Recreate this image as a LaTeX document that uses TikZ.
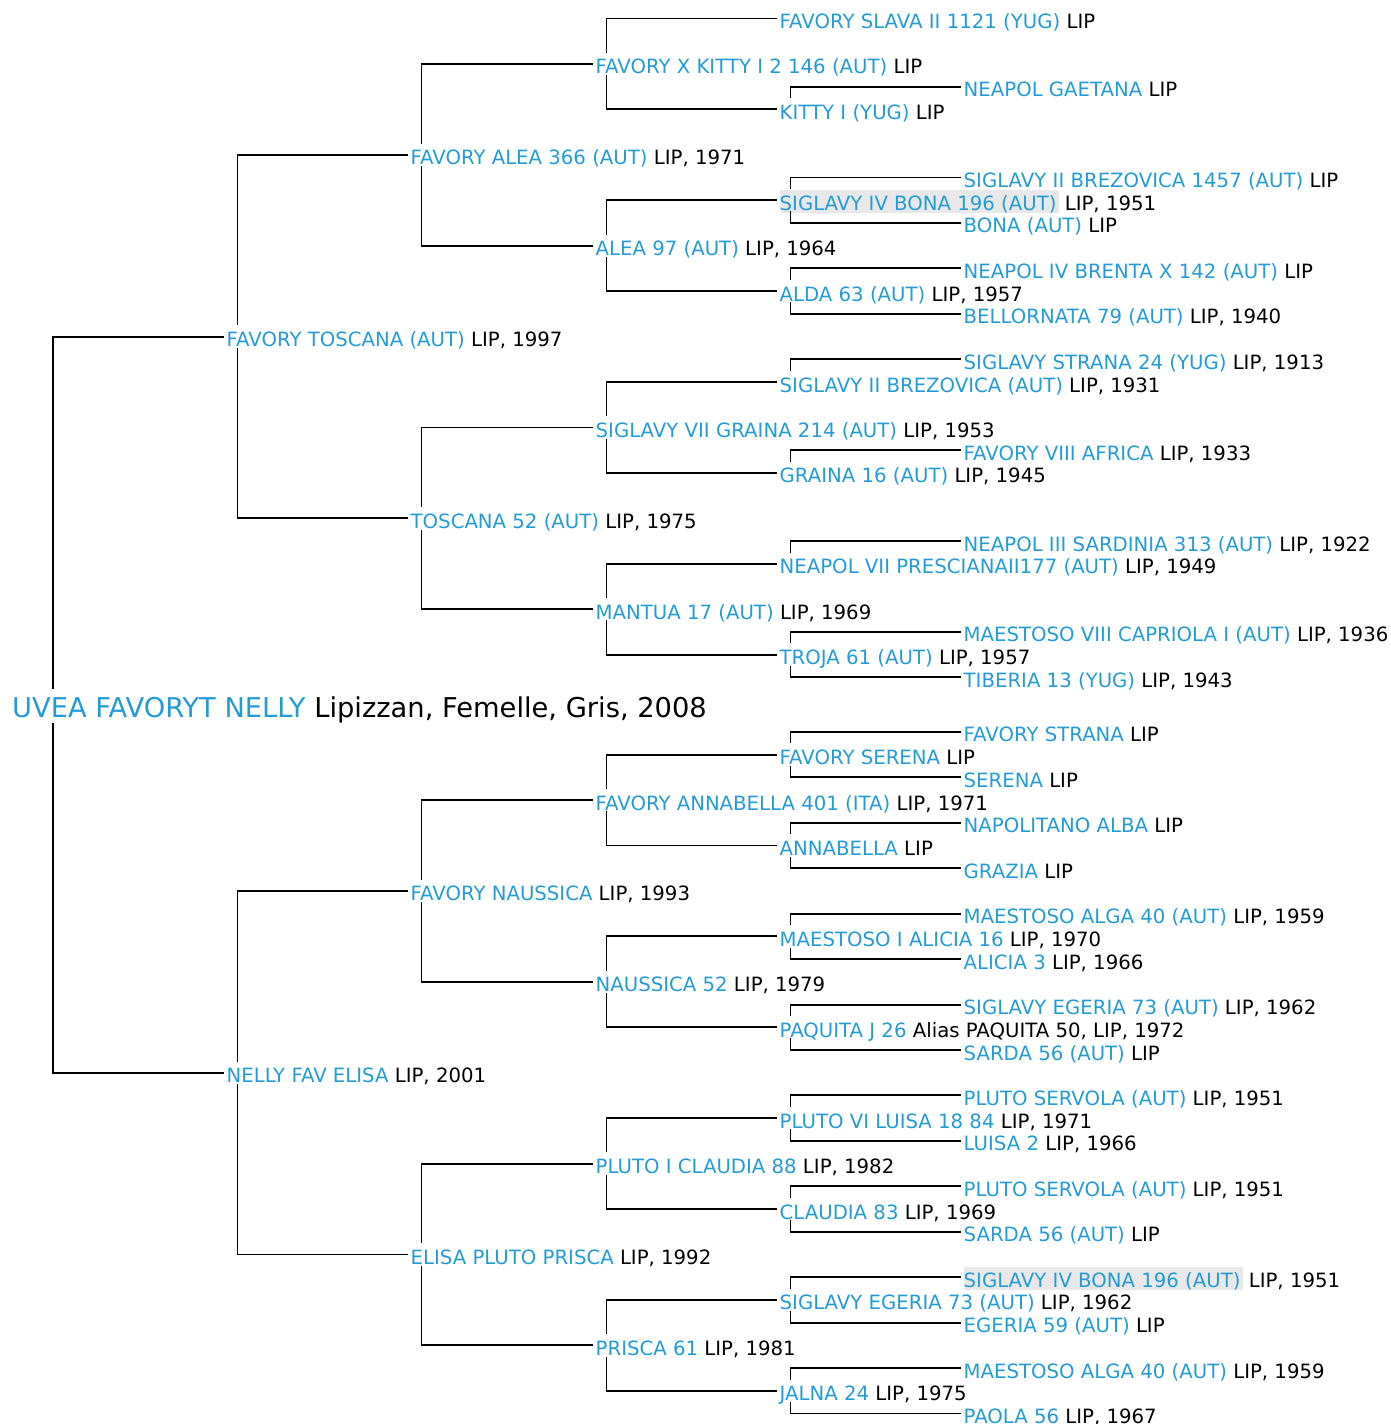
\documentclass[tikz,border=0pt]{standalone}
\usepackage{fontspec}
\setmainfont{DejaVu Sans}
\definecolor{horseblue}{RGB}{35,155,215}
\definecolor{markgray}{RGB}{232,232,232}
\newcommand{\hname}[1]{\textcolor{horseblue}{#1}}
\newcommand{\hlname}[1]{{\setlength{\fboxsep}{0pt}\colorbox{markgray}{\rule[-2.7pt]{0pt}{22.7pt}\textcolor{horseblue}{#1}\kern2pt}}}

\begin{document}
\begin{tikzpicture}[x=1pt, y=-22.72pt]
    \tikzstyle{every node}=[anchor=base west, inner xsep=3pt, inner ysep=0pt, text height=21pt, text depth=1pt, font=\fontsize{19.7pt}{22pt}\selectfont]
    \tikzstyle{edge}=[black, line width=1.9pt]
    \useasboundingbox (0pt,28.5pt) rectangle (1390pt,-1395.5pt);

    \node[font=\fontsize{27.3pt}{32pt}\selectfont, text height=28pt, text depth=5.5pt] (h) at (9,30.32) {\hname{UVEA FAVORYT NELLY} Lipizzan, Femelle, Gris, 2008};

    % sire side
    \node (s) at (223.5,14) {\hname{FAVORY TOSCANA (AUT)} LIP, 1997};
    \node (ss) at (407.5,6) {\hname{FAVORY ALEA 366 (AUT)} LIP, 1971};
    \node (sd) at (407.5,22) {\hname{TOSCANA 52 (AUT)} LIP, 1975};
    \node (sss) at (592.5,2) {\hname{FAVORY X KITTY I 2 146 (AUT)} LIP};
    \node (ssd) at (592.5,10) {\hname{ALEA 97 (AUT)} LIP, 1964};
    \node (sds) at (592.5,18) {\hname{SIGLAVY VII GRAINA 214 (AUT)} LIP, 1953};
    \node (sdd) at (592.5,26) {\hname{MANTUA 17 (AUT)} LIP, 1969};
    \node (ssss) at (776.5,0) {\hname{FAVORY SLAVA II 1121 (YUG)} LIP};
    \node (sssd) at (776.5,4) {\hname{KITTY I (YUG)} LIP};
    \node (ssds) at (776.5,8) {\hlname{SIGLAVY IV BONA 196 (AUT)} LIP, 1951};
    \node (ssdd) at (776.5,12) {\hname{ALDA 63 (AUT)} LIP, 1957};
    \node (sdss) at (776.5,16) {\hname{SIGLAVY II BREZOVICA (AUT)} LIP, 1931};
    \node (sdsd) at (776.5,20) {\hname{GRAINA 16 (AUT)} LIP, 1945};
    \node (sdds) at (776.5,24) {\hname{NEAPOL VII PRESCIANAII177 (AUT)} LIP, 1949};
    \node (sddd) at (776.5,28) {\hname{TROJA 61 (AUT)} LIP, 1957};
    \node (sssds) at (960.5,3) {\hname{NEAPOL GAETANA} LIP};
    \node (ssdss) at (960.5,7) {\hname{SIGLAVY II BREZOVICA 1457 (AUT)} LIP};
    \node (ssdsd) at (960.5,9) {\hname{BONA (AUT)} LIP};
    \node (ssdds) at (960.5,11) {\hname{NEAPOL IV BRENTA X 142 (AUT)} LIP};
    \node (ssddd) at (960.5,13) {\hname{BELLORNATA 79 (AUT)} LIP, 1940};
    \node (sdsss) at (960.5,15) {\hname{SIGLAVY STRANA 24 (YUG)} LIP, 1913};
    \node (sdsds) at (960.5,19) {\hname{FAVORY VIII AFRICA} LIP, 1933};
    \node (sddss) at (960.5,23) {\hname{NEAPOL III SARDINIA 313 (AUT)} LIP, 1922};
    \node (sddds) at (960.5,27) {\hname{MAESTOSO VIII CAPRIOLA I (AUT)} LIP, 1936};
    \node (sdddd) at (960.5,29) {\hname{TIBERIA 13 (YUG)} LIP, 1943};

    % dam side
    \node (d) at (223.5,46.4) {\hname{NELLY FAV ELISA} LIP, 2001};
    \node (ds) at (407.5,38.4) {\hname{FAVORY NAUSSICA} LIP, 1993};
    \node (dd) at (407.5,54.4) {\hname{ELISA PLUTO PRISCA} LIP, 1992};
    \node (dss) at (592.5,34.4) {\hname{FAVORY ANNABELLA 401 (ITA)} LIP, 1971};
    \node (dsd) at (592.5,42.4) {\hname{NAUSSICA 52} LIP, 1979};
    \node (dds) at (592.5,50.4) {\hname{PLUTO I CLAUDIA 88} LIP, 1982};
    \node (ddd) at (592.5,58.4) {\hname{PRISCA 61} LIP, 1981};
    \node (dsss) at (776.5,32.4) {\hname{FAVORY SERENA} LIP};
    \node (dssd) at (776.5,36.4) {\hname{ANNABELLA} LIP};
    \node (dsds) at (776.5,40.4) {\hname{MAESTOSO I ALICIA 16} LIP, 1970};
    \node (dsdd) at (776.5,44.4) {\hname{PAQUITA J 26} Alias PAQUITA 50, LIP, 1972};
    \node (ddss) at (776.5,48.4) {\hname{PLUTO VI LUISA 18 84} LIP, 1971};
    \node (ddsd) at (776.5,52.4) {\hname{CLAUDIA 83} LIP, 1969};
    \node (ddds) at (776.5,56.4) {\hname{SIGLAVY EGERIA 73 (AUT)} LIP, 1962};
    \node (dddd) at (776.5,60.4) {\hname{JALNA 24} LIP, 1975};
    \node (dssss) at (960.5,31.4) {\hname{FAVORY STRANA} LIP};
    \node (dsssd) at (960.5,33.4) {\hname{SERENA} LIP};
    \node (dssds) at (960.5,35.4) {\hname{NAPOLITANO ALBA} LIP};
    \node (dssdd) at (960.5,37.4) {\hname{GRAZIA} LIP};
    \node (dsdss) at (960.5,39.4) {\hname{MAESTOSO ALGA 40 (AUT)} LIP, 1959};
    \node (dsdsd) at (960.5,41.4) {\hname{ALICIA 3} LIP, 1966};
    \node (dsdds) at (960.5,43.4) {\hname{SIGLAVY EGERIA 73 (AUT)} LIP, 1962};
    \node (dsddd) at (960.5,45.4) {\hname{SARDA 56 (AUT)} LIP};
    \node (ddsss) at (960.5,47.4) {\hname{PLUTO SERVOLA (AUT)} LIP, 1951};
    \node (ddssd) at (960.5,49.4) {\hname{LUISA 2} LIP, 1966};
    \node (ddsds) at (960.5,51.4) {\hname{PLUTO SERVOLA (AUT)} LIP, 1951};
    \node (ddsdd) at (960.5,53.4) {\hname{SARDA 56 (AUT)} LIP};
    \node (dddss) at (960.5,55.4) {\hlname{SIGLAVY IV BONA 196 (AUT)} LIP, 1951};
    \node (dddsd) at (960.5,57.4) {\hname{EGERIA 59 (AUT)} LIP};
    \node (dddds) at (960.5,59.4) {\hname{MAESTOSO ALGA 40 (AUT)} LIP, 1959};
    \node (ddddd) at (960.5,61.4) {\hname{PAOLA 56} LIP, 1967};

    % parent links
    \draw[edge] (s.west) -| ([xshift=44pt]h.north west) ([xshift=44pt]h.south west) |- (d.west);
    \draw[edge] (ss.west) -| ([xshift=14pt]s.north west) ([xshift=14pt]s.south west) |- (sd.west);
    \draw[edge] (ds.west) -| ([xshift=14pt]d.north west) ([xshift=14pt]d.south west) |- (dd.west);
    \draw[edge] (sss.west) -| ([xshift=14pt]ss.north west) ([xshift=14pt]ss.south west) |- (ssd.west);
    \draw[edge] (sds.west) -| ([xshift=14pt]sd.north west) ([xshift=14pt]sd.south west) |- (sdd.west);
    \draw[edge] (dss.west) -| ([xshift=14pt]ds.north west) ([xshift=14pt]ds.south west) |- (dsd.west);
    \draw[edge] (dds.west) -| ([xshift=14pt]dd.north west) ([xshift=14pt]dd.south west) |- (ddd.west);
    \draw[edge] (ssss.west) -| ([xshift=14pt]sss.north west) ([xshift=14pt]sss.south west) |- (sssd.west);
    \draw[edge] (ssds.west) -| ([xshift=14pt]ssd.north west) ([xshift=14pt]ssd.south west) |- (ssdd.west);
    \draw[edge] (sdss.west) -| ([xshift=14pt]sds.north west) ([xshift=14pt]sds.south west) |- (sdsd.west);
    \draw[edge] (sdds.west) -| ([xshift=14pt]sdd.north west) ([xshift=14pt]sdd.south west) |- (sddd.west);
    \draw[edge] (dsss.west) -| ([xshift=14pt]dss.north west) ([xshift=14pt]dss.south west) |- (dssd.west);
    \draw[edge] (dsds.west) -| ([xshift=14pt]dsd.north west) ([xshift=14pt]dsd.south west) |- (dsdd.west);
    \draw[edge] (ddss.west) -| ([xshift=14pt]dds.north west) ([xshift=14pt]dds.south west) |- (ddsd.west);
    \draw[edge] (ddds.west) -| ([xshift=14pt]ddd.north west) ([xshift=14pt]ddd.south west) |- (dddd.west);

    \draw[edge] (sssds.west) -| ([xshift=14pt]sssd.north west);
    \draw[edge] (ssdss.west) -| ([xshift=14pt]ssds.north west) ([xshift=14pt]ssds.south west) |- (ssdsd.west);
    \draw[edge] (ssdds.west) -| ([xshift=14pt]ssdd.north west) ([xshift=14pt]ssdd.south west) |- (ssddd.west);
    \draw[edge] (sdsss.west) -| ([xshift=14pt]sdss.north west);
    \draw[edge] (sdsds.west) -| ([xshift=14pt]sdsd.north west);
    \draw[edge] (sddss.west) -| ([xshift=14pt]sdds.north west);
    \draw[edge] (sddds.west) -| ([xshift=14pt]sddd.north west) ([xshift=14pt]sddd.south west) |- (sdddd.west);
    \draw[edge] (dssss.west) -| ([xshift=14pt]dsss.north west) ([xshift=14pt]dsss.south west) |- (dsssd.west);
    \draw[edge] (dssds.west) -| ([xshift=14pt]dssd.north west) ([xshift=14pt]dssd.south west) |- (dssdd.west);
    \draw[edge] (dsdss.west) -| ([xshift=14pt]dsds.north west) ([xshift=14pt]dsds.south west) |- (dsdsd.west);
    \draw[edge] (dsdds.west) -| ([xshift=14pt]dsdd.north west) ([xshift=14pt]dsdd.south west) |- (dsddd.west);
    \draw[edge] (ddsss.west) -| ([xshift=14pt]ddss.north west) ([xshift=14pt]ddss.south west) |- (ddssd.west);
    \draw[edge] (ddsds.west) -| ([xshift=14pt]ddsd.north west) ([xshift=14pt]ddsd.south west) |- (ddsdd.west);
    \draw[edge] (dddss.west) -| ([xshift=14pt]ddds.north west) ([xshift=14pt]ddds.south west) |- (dddsd.west);
    \draw[edge] (dddds.west) -| ([xshift=14pt]dddd.north west) ([xshift=14pt]dddd.south west) |- (ddddd.west);
\end{tikzpicture}
\end{document}
